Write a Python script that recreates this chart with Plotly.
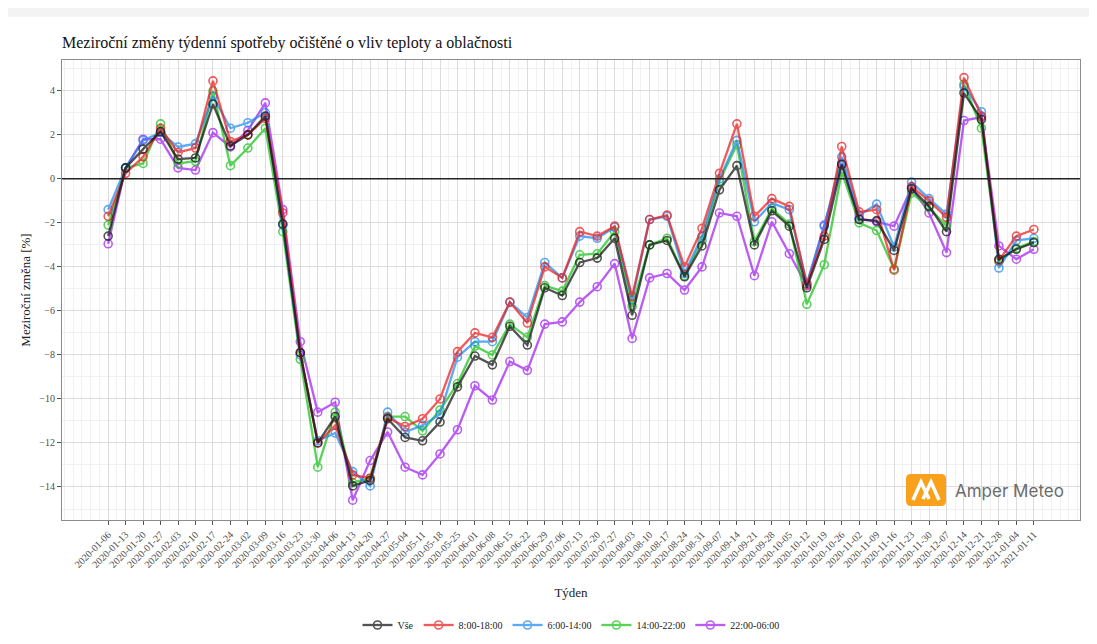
import pandas as pd
import plotly.graph_objects as go

# tydny (pondeli)
tydny = ['2020-01-06', '2020-01-13', '2020-01-20', '2020-01-27', '2020-02-03', '2020-02-10',
         '2020-02-17', '2020-02-24', '2020-03-02', '2020-03-09', '2020-03-16', '2020-03-23',
         '2020-03-30', '2020-04-06', '2020-04-13', '2020-04-20', '2020-04-27', '2020-05-04',
         '2020-05-11', '2020-05-18', '2020-05-25', '2020-06-01', '2020-06-08', '2020-06-15',
         '2020-06-22', '2020-06-29', '2020-07-06', '2020-07-13', '2020-07-20', '2020-07-27',
         '2020-08-03', '2020-08-10', '2020-08-17', '2020-08-24', '2020-08-31', '2020-09-07',
         '2020-09-14', '2020-09-21', '2020-09-28', '2020-10-05', '2020-10-12', '2020-10-19',
         '2020-10-26', '2020-11-02', '2020-11-09', '2020-11-16', '2020-11-23', '2020-11-30',
         '2020-12-07', '2020-12-14', '2020-12-21', '2020-12-28', '2021-01-04', '2021-01-11']

vse = [-2.6, 0.5, 1.35, 2.15, 0.9, 0.95, 3.4, 1.5, 2.0, 2.85, -2.05, -7.9, -12.0, -10.8,
       -13.95, -13.7, -10.9, -11.75, -11.9, -11.05, -9.45, -8.05, -8.45, -6.7, -7.55, -4.95,
       -5.3, -3.8, -3.6, -2.7, -6.2, -3.0, -2.8, -4.45, -3.05, -0.5, 0.6, -3.0, -1.45, -2.15,
       -4.95, -2.75, 0.65, -1.85, -1.9, -3.25, -0.45, -1.25, -2.4, 3.9, 2.7, -3.65, -3.2, -2.9]
den_8_18 = [-1.7, 0.25, 1.0, 2.3, 1.2, 1.4, 4.45, 1.7, 2.0, 2.75, -1.55, -7.9, -12.0, -11.2,
            -13.45, -13.6, -10.85, -11.25, -10.9, -10.0, -7.85, -7.0, -7.2, -5.6, -6.55, -4.0,
            -4.5, -2.4, -2.6, -2.15, -5.35, -1.85, -1.65, -4.0, -2.25, 0.25, 2.5, -1.7, -0.9,
            -1.25, -4.8, -2.6, 1.47, -1.5, -1.4, -4.15, -0.35, -1.0, -1.75, 4.6, 2.85, -3.7,
            -2.6, -2.3]
den_6_14 = [-1.4, 0.5, 1.75, 2.1, 1.45, 1.6, 3.75, 2.3, 2.55, 3.0, -2.1, -8.0, -11.9, -11.55,
            -13.3, -13.95, -10.6, -11.5, -11.2, -10.7, -8.1, -7.4, -7.4, -5.6, -6.3, -3.8,
            -4.5, -2.6, -2.7, -2.2, -5.5, -1.85, -1.7, -4.3, -2.6, 0.0, 1.75, -1.95, -1.1,
            -1.4, -4.75, -2.15, 1.0, -1.65, -1.15, -3.1, -0.15, -0.9, -1.6, 4.2, 3.05, -4.05,
            -2.8, -2.7]
odp_14_22 = [-2.1, 0.5, 0.7, 2.5, 0.7, 0.8, 4.0, 0.6, 1.4, 2.3, -2.4, -8.2, -13.1, -10.6,
             -13.8, -13.6, -10.8, -10.8, -11.45, -10.5, -9.3, -7.6, -8.0, -6.6, -7.2, -4.85,
             -5.1, -3.45, -3.4, -2.4, -5.8, -3.0, -2.7, -4.4, -2.8, -0.1, 1.55, -2.85, -1.35,
             -2.05, -5.7, -3.9, 0.3, -2.0, -2.35, -4.1, -0.65, -1.3, -2.15, 4.3, 2.3, -3.75,
             -3.15, -2.85]
noc_22_06 = [-2.95, 0.5, 1.8, 1.8, 0.5, 0.4, 2.1, 1.45, 2.2, 3.45, -1.4, -7.4, -10.6, -10.15,
             -14.6, -12.8, -11.5, -13.1, -13.45, -12.5, -11.4, -9.4, -10.05, -8.3, -8.7, -6.6,
             -6.5, -5.6, -4.9, -3.85, -7.25, -4.5, -4.3, -5.05, -4.0, -1.55, -1.7, -4.4, -1.95,
             -3.4, -4.85, -2.1, 0.7, -1.8, -1.95, -2.15, -0.4, -1.55, -3.35, 2.65, 2.8, -3.05,
             -3.65, -3.2]

serie = [
    ('Vše', vse, '#111111', 1),
    ('8:00-18:00', den_8_18, '#ee1c1c', 2),
    ('6:00-14:00', den_6_14, '#1e88f0', 3),
    ('14:00-22:00', odp_14_22, '#19c219', 4),
    ('22:00-06:00', noc_22_06, '#a21ff0', 5),
]

x = pd.to_datetime(tydny)
pad = pd.Timedelta(days=18.5)

fig = go.Figure()
for nazev, hodnoty, barva, poradi in reversed(serie):
    fig.add_trace(go.Scatter(
        x=x, y=hodnoty, name=nazev, mode='lines+markers',
        line=dict(color=barva, width=2.3),
        marker=dict(symbol='circle-open', size=8, color=barva, line=dict(width=1.6)),
        opacity=0.72, legendrank=poradi,
    ))

fig.add_hline(y=0, line=dict(color='#222222', width=1.5))


# logo - prevod pixelu (obrazovka) na paper souradnice
def px(v):
    return (v - 62) / 1018


def py(v):
    return (520 - v) / 460


rx, ry = 5 / 1018, 5 / 460
x0, x1, y0, y1 = px(906), px(946), py(506), py(474)
logo = (f'M {x0 + rx} {y0} L {x1 - rx} {y0} Q {x1} {y0} {x1} {y0 + ry} L {x1} {y1 - ry} '
        f'Q {x1} {y1} {x1 - rx} {y1} L {x0 + rx} {y1} Q {x0} {y1} {x0} {y1 - ry} '
        f'L {x0} {y0 + ry} Q {x0} {y0} {x0 + rx} {y0} Z')
fig.add_shape(type='path', xref='paper', yref='paper', path=logo,
              fillcolor='#f9a11b', line=dict(width=0), layer='above')
glyf = (f'M {px(913)} {py(500)} L {px(921)} {py(482)} L {px(929)} {py(499)} '
        f'M {px(923)} {py(499)} L {px(931)} {py(482)} L {px(939)} {py(500)}')
fig.add_shape(type='path', xref='paper', yref='paper', path=glyf,
              line=dict(color='white', width=3.5), layer='above')
fig.add_annotation(xref='paper', yref='paper', x=px(953), y=py(491), xanchor='left', yanchor='middle',
                   text='Amper Meteo', showarrow=False,
                   font=dict(family='Inter', size=17, color='#6b6b6b'))

# sedy pruh nahore
fig.add_shape(type='rect', xref='paper', yref='paper', x0=-0.07, x1=1.02, y0=1.094, y1=1.14,
              fillcolor='#f3f3f3', line=dict(width=0), layer='below')

# stranka ma okraj 8 px, proto je obrazek o 8 px mensi
fig.update_layout(
    width=1089, height=636,
    margin=dict(l=54, r=17, t=52, b=124),
    paper_bgcolor='white', plot_bgcolor='white',
    font=dict(family='Liberation Serif', color='#222222'),
    title=dict(text='Meziroční změny týdenní spotřeby očištěné o vliv teploty a oblačnosti',
               x=54 / 1089, xanchor='left', y=1 - 34 / 636, yanchor='middle',
               font=dict(family='Liberation Serif', size=16, color='#111111')),
    showlegend=True,
    legend=dict(orientation='h', x=0.5, xanchor='center', yref='container',
                y=1 - 617 / 636, yanchor='middle',
                font=dict(size=10, color='#222222'), itemwidth=30, traceorder='normal'),
)
fig.update_xaxes(
    title=dict(text='Týden', font=dict(size=13, color='#222222'), standoff=18),
    automargin=False,
    type='date', range=[x[0] - pad, x[-1] + pad],
    tickmode='array', tickvals=x, ticktext=tydny,
    tickangle=-45, tickfont=dict(size=10, color='#4d4d4d'),
    ticks='outside', ticklen=4, tickcolor='#555555',
    showgrid=True, gridcolor='#dcdcdc', gridwidth=1,
    minor=dict(dtick=3.5 * 24 * 3600 * 1000, tick0=x[0], showgrid=True, gridcolor='#f1f1f1', gridwidth=1),
    showline=True, linecolor='#8c8c8c', linewidth=1, mirror=True, zeroline=False,
)
fig.update_yaxes(
    title=dict(text='Meziroční změna [%]', font=dict(size=13, color='#222222'), standoff=5),
    automargin=False,
    range=[-15.5, 5.4], tickmode='linear', tick0=0, dtick=2,
    tickfont=dict(size=10, color='#4d4d4d'),
    ticks='outside', ticklen=4, tickcolor='#555555',
    showgrid=True, gridcolor='#dcdcdc', gridwidth=1,
    minor=dict(dtick=1, showgrid=True, gridcolor='#f1f1f1', gridwidth=1),
    showline=True, linecolor='#8c8c8c', linewidth=1, mirror=True, zeroline=False,
)

fig.write_html("out.html")
